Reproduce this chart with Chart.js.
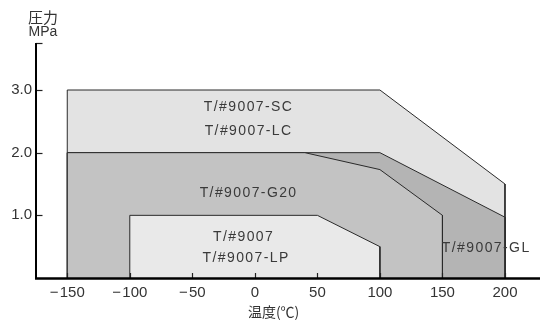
<!DOCTYPE html>
<html>
<head>
<meta charset="utf-8">
<script src="https://cdn.jsdelivr.net/npm/chart.js@4/dist/chart.umd.min.js"></script>
<style>
  html, body { margin: 0; padding: 0; background: #fff; }
  #wrap { width: 540px; height: 323px; position: relative; }
</style>
</head>
<body>
<div id="wrap"><canvas id="c"></canvas></div>
<script>
// ---- data ----
const xTicks = [-150, -100, -50, 0, 50, 100, 150, 200];
const yTicks = [1.0, 2.0, 3.0];
const yAxisTop = 3.75;

// region outlines (temperature, pressure)
const scLcTemp = [-150, -150, 100, 200, 200];
const scLcPres = [0, 3.0, 3.0, 1.5, 0];
const glTemp   = [-150, -150, 100, 200, 200];
const glPres   = [0, 2.0, 2.0, 0.97, 0];
const g20Temp  = [-150, -150, 40, 100, 150, 150];
const g20Pres  = [0, 2.0, 2.0, 1.73, 1.0, 0];
const lpTemp   = [-100, -100, 50, 100, 100];
const lpPres   = [0, 1.0, 1.0, 0.5, 0];

// region labels (anchored in data units)
const labelText = ['T/#9007-SC', 'T/#9007-LC', 'T/#9007-G20', 'T/#9007', 'T/#9007-LP', 'T/#9007-GL'];
const labelTemp = [-5, -5, -5, -9, -7, 185];
const labelPres = [2.73, 2.35, 1.36, 0.65, 0.32, 0.48];

const FONT = "'Liberation Sans', 'Noto Sans CJK JP', sans-serif";
const CJK = "'Noto Sans CJK JP', sans-serif";

function pts(xs, ys) { return xs.map((x, i) => ({ x: x, y: ys[i] })); }
function region(xs, ys, color, order) {
  return {
    data: pts(xs, ys), showLine: true, fill: 'origin', tension: 0,
    backgroundColor: color, borderColor: '#2a2a2a', borderWidth: 1,
    pointRadius: 0, order: order
  };
}

const overlay = {
  id: 'overlay',
  afterDraw(chart) {
    const ctx = chart.ctx, xs = chart.scales.x, ys = chart.scales.y, ca = chart.chartArea;
    ctx.save();
    // inward ticks
    ctx.strokeStyle = '#222'; ctx.lineWidth = 1.2;
    yTicks.concat([yAxisTop]).forEach(v => {
      const y = Math.round(ys.getPixelForValue(v)) + 0.5;
      ctx.beginPath(); ctx.moveTo(ca.left, y); ctx.lineTo(ca.left + 6.5, y); ctx.stroke();
    });
    xTicks.forEach(v => {
      const x = Math.round(xs.getPixelForValue(v)) + 0.5;
      ctx.beginPath(); ctx.moveTo(x, ca.bottom); ctx.lineTo(x, ca.bottom - 5); ctx.stroke();
    });
    // axes
    ctx.strokeStyle = '#000'; ctx.lineWidth = 2;
    ctx.beginPath(); ctx.moveTo(ca.left, ys.getPixelForValue(yAxisTop)); ctx.lineTo(ca.left, ca.bottom + 1); ctx.stroke();
    ctx.lineWidth = 2.5;
    ctx.beginPath(); ctx.moveTo(ca.left - 1, ca.bottom + 0.5); ctx.lineTo(chart.width, ca.bottom + 0.5); ctx.stroke();
    // region labels
    ctx.fillStyle = '#3a3a3a';
    ctx.font = '14px ' + FONT;
    ctx.textAlign = 'center'; ctx.textBaseline = 'middle';
    try { ctx.letterSpacing = '1.4px'; } catch (e) {}
    labelText.forEach((t, i) => {
      ctx.fillText(t, xs.getPixelForValue(labelTemp[i]), ys.getPixelForValue(labelPres[i]));
    });
    try { ctx.letterSpacing = '0px'; } catch (e) {}
    // axis titles
    ctx.fillStyle = '#333';
    ctx.font = '15px ' + CJK;
    ctx.fillText('圧力', ca.left + 7, 17);
    ctx.font = '14px ' + FONT;
    ctx.fillText('MPa', ca.left + 7, 32);
    ctx.font = '14px ' + CJK;
    ctx.fillText('温度(℃)', xs.getPixelForValue(15), 312);
    ctx.restore();
  }
};

new Chart(document.getElementById('c'), {
  type: 'scatter',
  data: {
    datasets: [
      region(scLcTemp, scLcPres, '#e3e3e3', 4),
      region(glTemp, glPres, '#b4b4b4', 3),
      region(g20Temp, g20Pres, '#c3c3c3', 2),
      region(lpTemp, lpPres, '#e9e9e9', 1)
    ]
  },
  options: {
    responsive: true, maintainAspectRatio: false, animation: false,
    layout: { padding: { top: 43, left: 0, right: 0, bottom: 0 } },
    plugins: { legend: { display: false }, tooltip: { enabled: false } },
    scales: {
      x: {
        type: 'linear', min: -175, max: 228,
        afterBuildTicks: s => { s.ticks = xTicks.map(v => ({ value: v })); },
        afterFit: s => { s.height = 45; },
        grid: { display: false, drawTicks: false }, border: { display: false },
        ticks: {
          autoSkip: false, maxRotation: 0, padding: 6, color: '#333',
          font: { size: 15, family: FONT },
          callback: v => v < 0 ? '\u2212\u200a' + Math.abs(v) : String(v)
        }
      },
      y: {
        type: 'linear', min: 0, max: yAxisTop,
        afterBuildTicks: s => { s.ticks = yTicks.map(v => ({ value: v })); },
        afterFit: s => { s.width = 36; },
        grid: { display: false, drawTicks: false }, border: { display: false },
        ticks: {
          padding: 4, color: '#333',
          font: { size: 15, family: FONT },
          callback: v => Number(v).toFixed(1)
        }
      }
    }
  },
  plugins: [overlay]
});
</script>
</body>
</html>
